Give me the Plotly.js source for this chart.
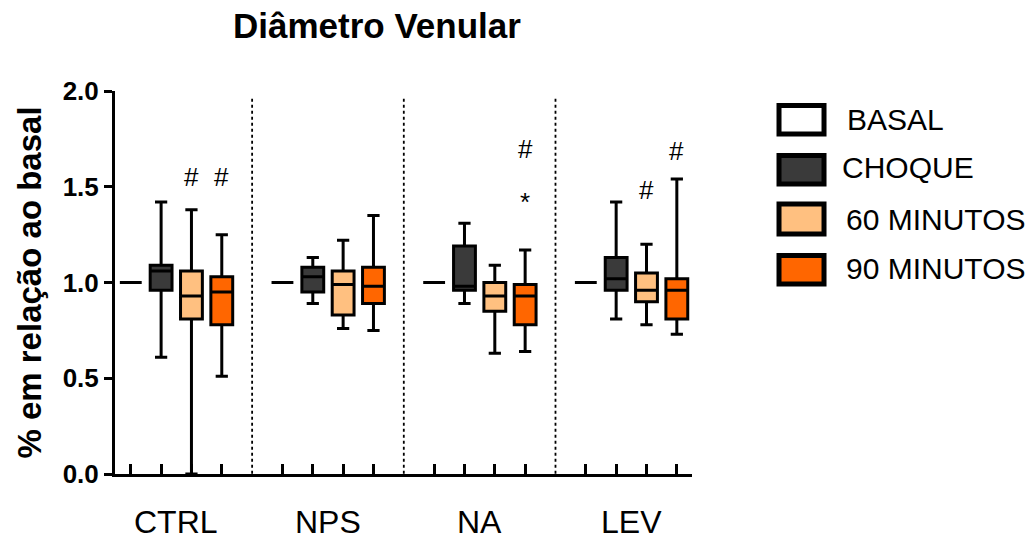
<!DOCTYPE html>
<html>
<head>
<meta charset="utf-8">
<script src="https://cdn.plot.ly/plotly-3.0.1.min.js"></script>
<style>html,body{margin:0;padding:0;background:#fff;}#chart{width:1035px;height:541px;}</style>
</head>
<body>
<div id="chart"></div>
<script>
// ---- data ----
var groups = ['CTRL', 'NPS', 'NA', 'LEV'];
var series = ['BASAL', 'CHOQUE', '60 MINUTOS', '90 MINUTOS'];
var colors = ['#FFFFFF', '#3A3A3A', '#FFC080', '#FF6600'];

// per series: values for CTRL, NPS, NA, LEV
var basalLo  = [1.00, 1.00, 1.00, 1.00];
var basalQ1  = [1.00, 1.00, 1.00, 1.00];
var basalMed = [1.00, 1.00, 1.00, 1.00];
var basalQ3  = [1.00, 1.00, 1.00, 1.00];
var basalHi  = [1.00, 1.00, 1.00, 1.00];

var choqueLo  = [0.61, 0.89, 0.89, 0.81];
var choqueQ1  = [0.96, 0.95, 0.96, 0.96];
var choqueMed = [1.06, 1.03, 0.98, 1.02];
var choqueQ3  = [1.09, 1.08, 1.19, 1.13];
var choqueHi  = [1.42, 1.13, 1.31, 1.42];

var m60Lo  = [0.00, 0.76, 0.63, 0.78];
var m60Q1  = [0.81, 0.83, 0.85, 0.90];
var m60Med = [0.93, 0.99, 0.93, 0.96];
var m60Q3  = [1.06, 1.06, 1.00, 1.05];
var m60Hi  = [1.38, 1.22, 1.09, 1.20];

var m90Lo  = [0.51, 0.75, 0.64, 0.73];
var m90Q1  = [0.78, 0.89, 0.78, 0.81];
var m90Med = [0.95, 0.98, 0.93, 0.96];
var m90Q3  = [1.03, 1.08, 0.99, 1.02];
var m90Hi  = [1.25, 1.35, 1.17, 1.54];

// significance marks: group index, series index, symbol, y level
var markGroup  = [0, 0, 2, 2, 3, 3];
var markSeries = [2, 3, 3, 3, 2, 3];
var markText   = ['#', '#', '#', '*', '#', '#'];
var markY      = [1.55, 1.55, 1.695, 1.42, 1.483, 1.685];

var yTicks = [0, 0.5, 1.0, 1.5, 2.0];

// ---- build ----
var GAP = 5; // group slot size in box units
function pos(g, i) { return g * GAP + i; }

var stats = [
  [basalLo, basalQ1, basalMed, basalQ3, basalHi],
  [choqueLo, choqueQ1, choqueMed, choqueQ3, choqueHi],
  [m60Lo, m60Q1, m60Med, m60Q3, m60Hi],
  [m90Lo, m90Q1, m90Med, m90Q3, m90Hi]
];

var traces = [];
var tickPositions = [];
series.forEach(function (name, i) {
  var xs = groups.map(function (_, g) { return pos(g, i); });
  tickPositions = tickPositions.concat(xs);
  traces.push({
    type: 'box',
    name: name,
    x: xs,
    lowerfence: stats[i][0],
    q1: stats[i][1],
    median: stats[i][2],
    q3: stats[i][3],
    upperfence: stats[i][4],
    width: 0.72,
    whiskerwidth: 0.56,
    fillcolor: colors[i],
    line: { color: '#000', width: 3 },
    boxpoints: false,
    hoverinfo: 'skip',
    showlegend: false
  });
});

var FONT = 'Liberation Sans, Arial, Helvetica, sans-serif';
var shapes = [];
var annotations = [];

// dotted group separators
for (var g = 1; g < groups.length; g++) {
  shapes.push({
    type: 'line', xref: 'x', yref: 'y',
    x0: pos(g, 0) - 1, x1: pos(g, 0) - 1, y0: -0.03, y1: 1.97,
    line: { color: '#000', width: 1.8, dash: 'dot' }
  });
}

// group labels
groups.forEach(function (label, g) {
  annotations.push({
    xref: 'x', yref: 'y', x: pos(g, 1.5), y: 0,
    yanchor: 'top', yshift: -28, showarrow: false,
    text: label, font: { family: FONT, size: 32, color: '#000' }
  });
});

// significance marks
markText.forEach(function (t, k) {
  annotations.push({
    xref: 'x', yref: 'y', x: pos(markGroup[k], markSeries[k]), y: markY[k],
    showarrow: false, text: t,
    font: { family: FONT, size: 26, color: '#000' }
  });
});

// custom legend (large swatches as in the reference)
var legBoxes = [[0.8877, 0.9621], [0.7572, 0.8316], [0.6266, 0.7050], [0.4961, 0.5705]];
var legTextY = [0.9243, 0.8000, 0.6632, 0.5378];
var legTextX = [1.2660, 1.2565, 1.2635, 1.2635];
series.forEach(function (name, i) {
  shapes.push({
    type: 'rect', xref: 'paper', yref: 'paper',
    x0: 1.1508, x1: 1.2288, y0: legBoxes[i][0], y1: legBoxes[i][1],
    fillcolor: colors[i], line: { color: '#000', width: 5 }
  });
  annotations.push({
    xref: 'paper', yref: 'paper', x: legTextX[i], y: legTextY[i],
    xanchor: 'left', yanchor: 'middle', showarrow: false, text: name,
    font: { family: FONT, size: 30, color: '#000' }
  });
});

var layout = {
  width: 1035, height: 541,
  margin: { l: 115, r: 343, t: 91, b: 67 },
  paper_bgcolor: '#fff', plot_bgcolor: '#fff',
  showlegend: false,
  title: {
    text: '<b>Diâmetro Venular</b>',
    x: 0.454, xref: 'paper', xanchor: 'center',
    y: 0.952, yref: 'container', yanchor: 'middle',
    font: { family: FONT, size: 35, color: '#000' }
  },
  xaxis: {
    range: [-0.52, 18.5],
    showline: true, linecolor: '#000', linewidth: 3,
    ticks: 'inside', ticklen: 10, tickwidth: 3, tickcolor: '#000',
    tickmode: 'array', tickvals: tickPositions,
    showticklabels: false, showgrid: false, zeroline: false, fixedrange: true
  },
  yaxis: {
    range: [0, 2],
    showline: true, linecolor: '#000', linewidth: 3,
    ticks: 'outside', ticklen: 8, tickwidth: 3, tickcolor: '#000',
    tickmode: 'array', tickvals: yTicks, ticktext: yTicks.map(function (v) { return '<b>' + v.toFixed(1) + '</b>'; }),
    tickfont: { family: FONT, size: 26, color: '#000' },
    showgrid: false, zeroline: false, fixedrange: true,
    title: { text: '<b>% em relação ao basal</b>', standoff: 12,
             font: { family: FONT, size: 33, color: '#000' } }
  },
  shapes: shapes,
  annotations: annotations
};

Plotly.newPlot('chart', traces, layout, { staticPlot: true, displayModeBar: false });
</script>
</body>
</html>
